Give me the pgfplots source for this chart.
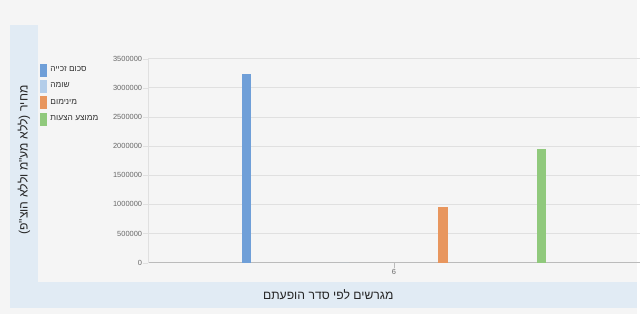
\documentclass[border=0pt]{standalone}
\usepackage{fontspec}
\setmainfont{Liberation Sans}
\newfontfamily\hebfont[Script=Hebrew]{Liberation Sans}
\TeXXeTstate=1
\usepackage{pgfplots}
\pgfplotsset{compat=1.18}
\definecolor{bg}{HTML}{F5F5F5}
\definecolor{band}{HTML}{E1EBF4}
\definecolor{c1}{HTML}{6F9FD8}
\definecolor{c2}{HTML}{B3CDE9}
\definecolor{c3}{HTML}{E8965E}
\definecolor{c4}{HTML}{90C97C}
\definecolor{gridc}{HTML}{E0E0E0}
\definecolor{tickc}{HTML}{666666}
\definecolor{axc}{HTML}{BBBBBB}
\begin{document}
\begin{tikzpicture}[x=1bp,y=1bp]
\fill[bg] (0,0) rectangle (640,316);
\fill[band] (10,33) rectangle (38,291);
\fill[band] (10,6) rectangle (640,33);
\node[rotate=90, font=\hebfont\fontsize{12.3}{14}\selectfont, text=black!85] at (24,155) {\beginR מחיר (ללא מע"מ וללא הוצ"פ)\endR};
\node[font=\hebfont\fontsize{12.3}{14}\selectfont, text=black!85] at (330,20) {\beginR מגרשים לפי סדר הופעתם\endR};
\begin{axis}[
  at={(149bp,52bp)}, anchor=south west,
  scale only axis, width=494bp, height=205bp,
  xmin=-1, xmax=1, ymin=0, ymax=3500000,
  axis x line*=bottom, axis y line*=left,
  axis line style={axc},
  y axis line style={gridc},
  xtick={0}, xticklabels={6},
  ytick={0,500000,1000000,1500000,2000000,2500000,3000000,3500000},
  scaled y ticks=false,
  /pgf/number format/assume math mode=true,
  yticklabel={\pgfmathprintnumber[fixed,1000 sep={}]{\tick}},
  tick label style={font=\fontsize{7.5}{9}\selectfont, text=tickc},
  y tick label style={inner sep=1bp},
  x tick label style={inner sep=2bp},
  tick align=outside,
  major tick length=5bp,
  y tick style={gridc},
  x tick style={axc},
  ymajorgrids, grid style={gridc, line width=0.8pt},
  clip=false,
  legend style={at={(-0.220,0.9756)}, anchor=north west, draw=none, fill=none,
    inner sep=0pt, outer sep=0pt, row sep=4bp,
    font=\hebfont\fontsize{8.4}{10}\selectfont, text=black!80,
    nodes={inner sep=0.5bp},
    cells={anchor=west},
    /tikz/every odd column/.append style={column sep=3.5bp}},
  legend cell align=left,
]
\addplot[ybar, bar width=9.5bp, bar shift=0pt, fill=c1, draw=none, forget plot] coordinates {(-0.6,3240000)};
\addplot[ybar, bar width=9.5bp, bar shift=0pt, fill=c2, draw=none, forget plot] coordinates {(-0.2,0)};
\addplot[ybar, bar width=9.5bp, bar shift=0pt, fill=c3, draw=none, forget plot] coordinates {(0.2,960000)};
\addplot[ybar, bar width=9.5bp, bar shift=0pt, fill=c4, draw=none, forget plot] coordinates {(0.6,1950000)};
\addlegendimage{legend image code/.code={\fill[c1] (0bp,-6bp) rectangle (6bp,6bp);}}
\addlegendentry{\beginR סכום זכייה\endR}
\addlegendimage{legend image code/.code={\fill[c2] (0bp,-6bp) rectangle (6bp,6bp);}}
\addlegendentry{\beginR שומה\endR}
\addlegendimage{legend image code/.code={\fill[c3] (0bp,-6bp) rectangle (6bp,6bp);}}
\addlegendentry{\beginR מינימום\endR}
\addlegendimage{legend image code/.code={\fill[c4] (0bp,-6bp) rectangle (6bp,6bp);}}
\addlegendentry{\beginR ממוצע הצעות\endR}
\end{axis}
\useasboundingbox (0,0) rectangle (640,316);
\end{tikzpicture}
\end{document}
